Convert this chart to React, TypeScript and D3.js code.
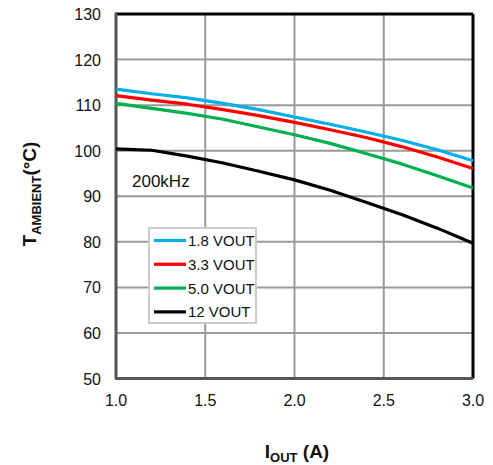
import React from "react";
import * as d3 from "d3";

const xTicks = [1.0, 1.5, 2.0, 2.5, 3.0];
const yTicks = [50, 60, 70, 80, 90, 100, 110, 120, 130];
const iout = [1.0, 1.2, 1.4, 1.6, 1.8, 2.0, 2.2, 2.4, 2.6, 2.8, 3.0];
const v18 = [113.5, 112.5, 111.6, 110.4, 109.0, 107.4, 105.8, 104.1, 102.3, 100.2, 97.8];
const v33 = [112.1, 111.1, 110.2, 109.0, 107.7, 106.2, 104.6, 102.9, 100.9, 98.6, 96.1];
const v50 = [110.4, 109.3, 108.2, 106.9, 105.2, 103.5, 101.6, 99.4, 97.1, 94.5, 91.8];
const v12 = [100.4, 100.1, 98.8, 97.3, 95.5, 93.6, 91.3, 88.7, 86.0, 83.0, 79.7];
const seriesNames = ["1.8 VOUT", "3.3 VOUT", "5.0 VOUT", "12 VOUT"];
const seriesColors = ["#00AEEF", "#FF0000", "#00B050", "#000000"];
const seriesValues = [v18, v33, v50, v12];

const L = 116, R = 473, T = 14, B = 378.5;
const FONT = "Liberation Sans, Arial, Helvetica, sans-serif";

export default function App() {
  const x = d3.scaleLinear().domain([1, 3]).range([L, R]);
  const y = d3.scaleLinear().domain([50, 130]).range([B, T]);
  const line = d3
    .line<[number, number]>()
    .x((d) => x(d[0]))
    .y((d) => y(d[1]));

  return (
    <svg
      width={493}
      height={465}
      style={{ position: "absolute", left: 0, top: 0, background: "#fff" }}
      fontFamily={FONT}
    >
      {/* grid */}
      {xTicks.slice(1, -1).map((t) => (
        <line key={"gx" + t} x1={x(t)} x2={x(t)} y1={T} y2={B} stroke="#999" strokeWidth={2} />
      ))}
      {yTicks.slice(1, -1).map((t) => (
        <line key={"gy" + t} x1={L} x2={R} y1={y(t)} y2={y(t)} stroke="#999" strokeWidth={2} />
      ))}
      {/* frame */}
      <line x1={L} x2={R} y1={T} y2={T} stroke="#000" strokeWidth={3} />
      <line x1={R} x2={R} y1={T} y2={B} stroke="#000" strokeWidth={3} />
      <line x1={L} x2={L} y1={T - 1.5} y2={B + 1} stroke="#555" strokeWidth={3} />
      <line x1={L} x2={R} y1={B} y2={B} stroke="#555" strokeWidth={3} />

      {/* series */}
      {seriesValues.map((vals, i) => (
        <path
          key={seriesNames[i]}
          d={line(iout.map((t, j) => [t, vals[j]] as [number, number])) || ""}
          fill="none"
          stroke={seriesColors[i]}
          strokeWidth={3.2}
          strokeLinejoin="round"
        />
      ))}

      {/* y ticks */}
      {yTicks.map((t) => (
        <text key={"yt" + t} x={101} y={y(t) + 6} fontSize={16} textAnchor="end" fill="#111">
          {t}
        </text>
      ))}
      {/* x ticks */}
      {xTicks.map((t) => (
        <text key={"xt" + t} x={x(t)} y={406} fontSize={16} textAnchor="middle" fill="#111">
          {t.toFixed(1)}
        </text>
      ))}

      <text x={132} y={187} fontSize={17} fill="#111">200kHz</text>

      {/* legend */}
      <rect x={149} y={228} width={107} height={95} fill="#fff" stroke="#ccc" strokeWidth={2} />
      {seriesNames.map((n, i) => {
        const yy = 240.5 + i * 23.8;
        return (
          <g key={"lg" + n}>
            <line x1={154} x2={186} y1={yy} y2={yy} stroke={seriesColors[i]} strokeWidth={3.2} />
            <text x={188} y={yy + 5.5} fontSize={15} fill="#111">{n}</text>
          </g>
        );
      })}

      {/* axis titles */}
      <text x={297} y={458} fontSize={19} fontWeight="bold" textAnchor="middle" fill="#111">
        I<tspan fontSize={13} dy={4}>OUT</tspan>
        <tspan dy={-4}> (A)</tspan>
      </text>
      <text
        transform="translate(36,194) rotate(-90)"
        fontSize={19}
        fontWeight="bold"
        textAnchor="middle"
        fill="#111"
      >
        T<tspan fontSize={13} dy={5}>AMBIENT</tspan>
        <tspan dy={-5}>(°C)</tspan>
      </text>
    </svg>
  );
}
